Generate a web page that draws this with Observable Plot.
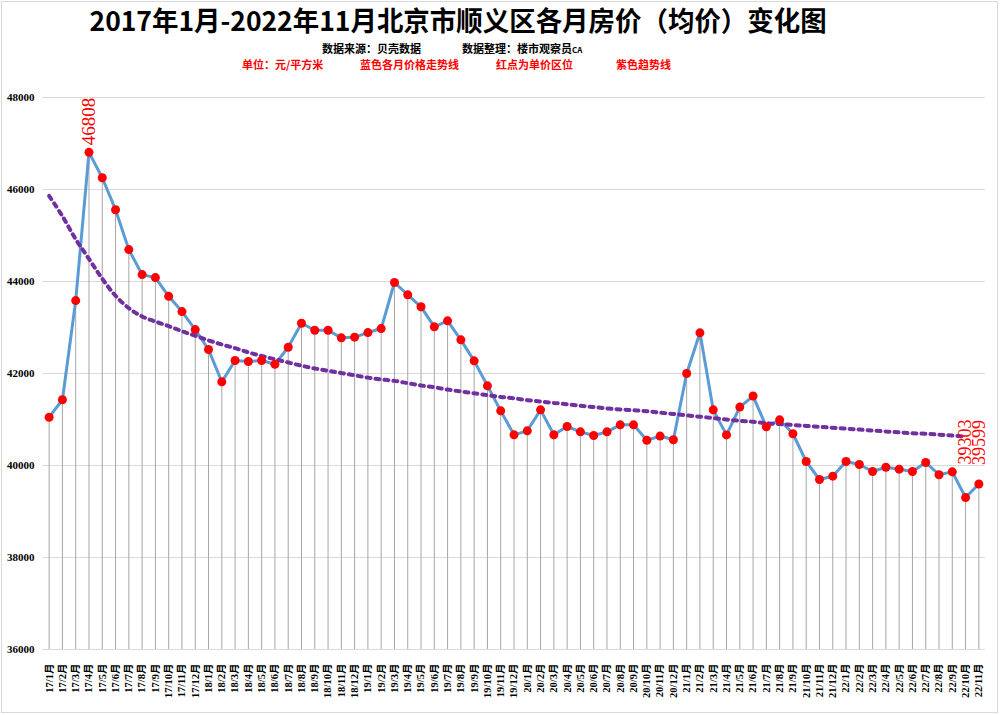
<!DOCTYPE html>
<html>
<head>
<meta charset="utf-8">
<script src="https://cdn.jsdelivr.net/npm/d3@7"></script>
<script src="https://cdn.jsdelivr.net/npm/@observablehq/plot@0.6"></script>
<style>
  html, body { margin: 0; padding: 0; background: #fff; }
  #wrap { position: relative; width: 1001px; height: 715px; overflow: hidden; }
  #frame { position: absolute; left: 1px; top: 1px; width: 997px; height: 712px; box-sizing: border-box; border: 1px solid #d9d9d9; }
  .t { position: absolute; white-space: nowrap; font-family: "Noto Sans CJK SC", sans-serif; font-weight: 700; }
  #title { left: 0; width: 916px; top: 0px; text-align: center; font-size: 27px; line-height: 39px; height: 39px; color: #000; }
  #title span { display: inline-block; transform: scale(0.98, 1); transform-origin: center; }
  .s1 { top: 40px; font-size: 11px; line-height: 16px; height: 16px; color: #000; }
  .s2 { top: 56px; font-size: 11px; line-height: 16px; height: 16px; color: #ff0000; }
  #chart { position: absolute; left: 0; top: 68px; }
</style>
</head>
<body>
<div id="wrap">
  <div id="frame"></div>
  <div id="title" class="t"><span>2017年1月-2022年11月北京市顺义区各月房价（均价）变化图</span></div>
  <div class="t s1" style="left:322px">数据来源：贝壳数据</div>
  <div class="t s1" style="left:462px">数据整理：楼市观察员<span style="font-size:8px">CA</span></div>
  <div class="t s2" style="left:242px">单位：元/平方米</div>
  <div class="t s2" style="left:360px">蓝色各月价格走势线</div>
  <div class="t s2" style="left:496px">红点为单价区位</div>
  <div class="t s2" style="left:616px">紫色趋势线</div>
  <div id="chart"></div>
</div>
<script>
const months = [
  "17/1月","17/2月","17/3月","17/4月","17/5月","17/6月","17/7月","17/8月","17/9月","17/10月","17/11月","17/12月",
  "18/1月","18/2月","18/3月","18/4月","18/5月","18/6月","18/7月","18/8月","18/9月","18/10月","18/11月","18/12月",
  "19/1月","19/2月","19/3月","19/4月","19/5月","19/6月","19/7月","19/8月","19/9月","19/10月","19/11月","19/12月",
  "20/1月","20/2月","20/3月","20/4月","20/5月","20/6月","20/7月","20/8月","20/9月","20/10月","20/11月","20/12月",
  "21/1月","21/2月","21/3月","21/4月","21/5月","21/6月","21/7月","21/8月","21/9月","21/10月","21/11月","21/12月",
  "22/1月","22/2月","22/3月","22/4月","22/5月","22/6月","22/7月","22/8月","22/9月","22/10月","22/11月"
];
const prices = [
  41050, 41430, 43585, 46808, 46256, 45561, 44693, 44150, 44085, 43678, 43346, 42955,
  42521, 41818, 42282, 42260, 42282, 42202, 42571, 43092, 42940, 42940, 42775, 42790,
  42890, 42977, 43978, 43710, 43450, 43015, 43145, 42732, 42275, 41732, 41188, 40667,
  40754, 41210, 40667, 40848, 40732, 40652, 40732, 40884, 40884, 40550, 40640, 40560,
  42000, 42884, 41210, 40665, 41270, 41510, 40840, 40993, 40690, 40087, 39696, 39768,
  40087, 40022, 39870, 39963, 39920, 39870, 40065, 39800, 39862, 39303, 39599
];
const trend = [
  45860, 45420, 44920, 44490, 44060, 43690, 43420, 43240, 43130, 43030, 42920, 42820,
  42720, 42630, 42550, 42460, 42380, 42310, 42240, 42170, 42110, 42060, 42010, 41960,
  41910, 41870, 41840, 41790, 41740, 41700, 41650, 41610, 41570, 41530, 41490, 41460,
  41420, 41390, 41360, 41330, 41300, 41270, 41240, 41220, 41200, 41180, 41150, 41120,
  41090, 41060, 41030, 41000, 40970, 40950, 40920, 40900, 40880, 40860, 40840, 40820,
  40800, 40780, 40760, 40740, 40720, 40700, 40690, 40670, 40650, 40630
];
const yTicks = [36000, 38000, 40000, 42000, 44000, 46000, 48000];
const labelMonths = ["17/4月", "22/10月", "22/11月"];

const data = months.map((m, i) => ({month: m, price: prices[i]}));
const trendData = trend.map((v, i) => ({month: months[i], value: v}));
const labelData = data.filter(d => labelMonths.includes(d.month));

const serif = "Liberation Serif, DejaVu Serif, Noto Sans CJK SC, serif";

const chart = Plot.plot({
  width: 1001,
  height: 645,
  marginLeft: 42,
  marginRight: 16,
  marginTop: 29,
  marginBottom: 64,
  style: {background: "transparent", overflow: "visible"},
  x: {type: "point", domain: months, padding: 0.5, round: false, label: null},
  y: {domain: [36000, 48000], label: null},
  marks: [
    Plot.gridY(yTicks, {stroke: "#d9d9d9", strokeOpacity: 1}),
    Plot.axisY(yTicks, {tickSize: 0, tickPadding: 8, tickFormat: d => String(d), fontSize: 11, fontWeight: "bold", fontFamily: serif, fill: "#000", label: null}),
    Plot.axisX({tickSize: 0, tickPadding: 14, tickRotate: -90, fontSize: 10.5, fontWeight: "bold", fontFamily: serif, fill: "#000", label: null}),
    Plot.ruleX(data, {x: "month", y1: 36000, y2: "price", stroke: "#a6a6a6", strokeWidth: 1}),
    Plot.line(data, {x: "month", y: "price", stroke: "#5b9bd5", strokeWidth: 3}),
    Plot.line(trendData, {x: "month", y: "value", stroke: "#7030a0", strokeWidth: 4, strokeDasharray: "4,5", curve: "catmull-rom"}),
    Plot.dot(data, {x: "month", y: "price", r: 4.5, fill: "#ff0000", stroke: "none"}),
    Plot.text(labelData.filter(d => d.month === "17/4月"), {x: "month", y: "price", text: d => String(d.price), rotate: -90, textAnchor: "start", dy: -7, fill: "#ff0000", fontSize: 19, fontFamily: serif}),
    Plot.text(labelData.filter(d => d.month === "22/10月"), {x: "month", y: "price", text: d => String(d.price), rotate: -90, textAnchor: "start", dy: -33, fill: "#ff0000", fontSize: 18, fontFamily: serif}),
    Plot.text(labelData.filter(d => d.month === "22/11月"), {x: "month", y: "price", text: d => String(d.price), rotate: -90, textAnchor: "start", dy: -19, fill: "#ff0000", fontSize: 18, fontFamily: serif})
  ]
});
document.getElementById("chart").appendChild(chart);
</script>
</body>
</html>
